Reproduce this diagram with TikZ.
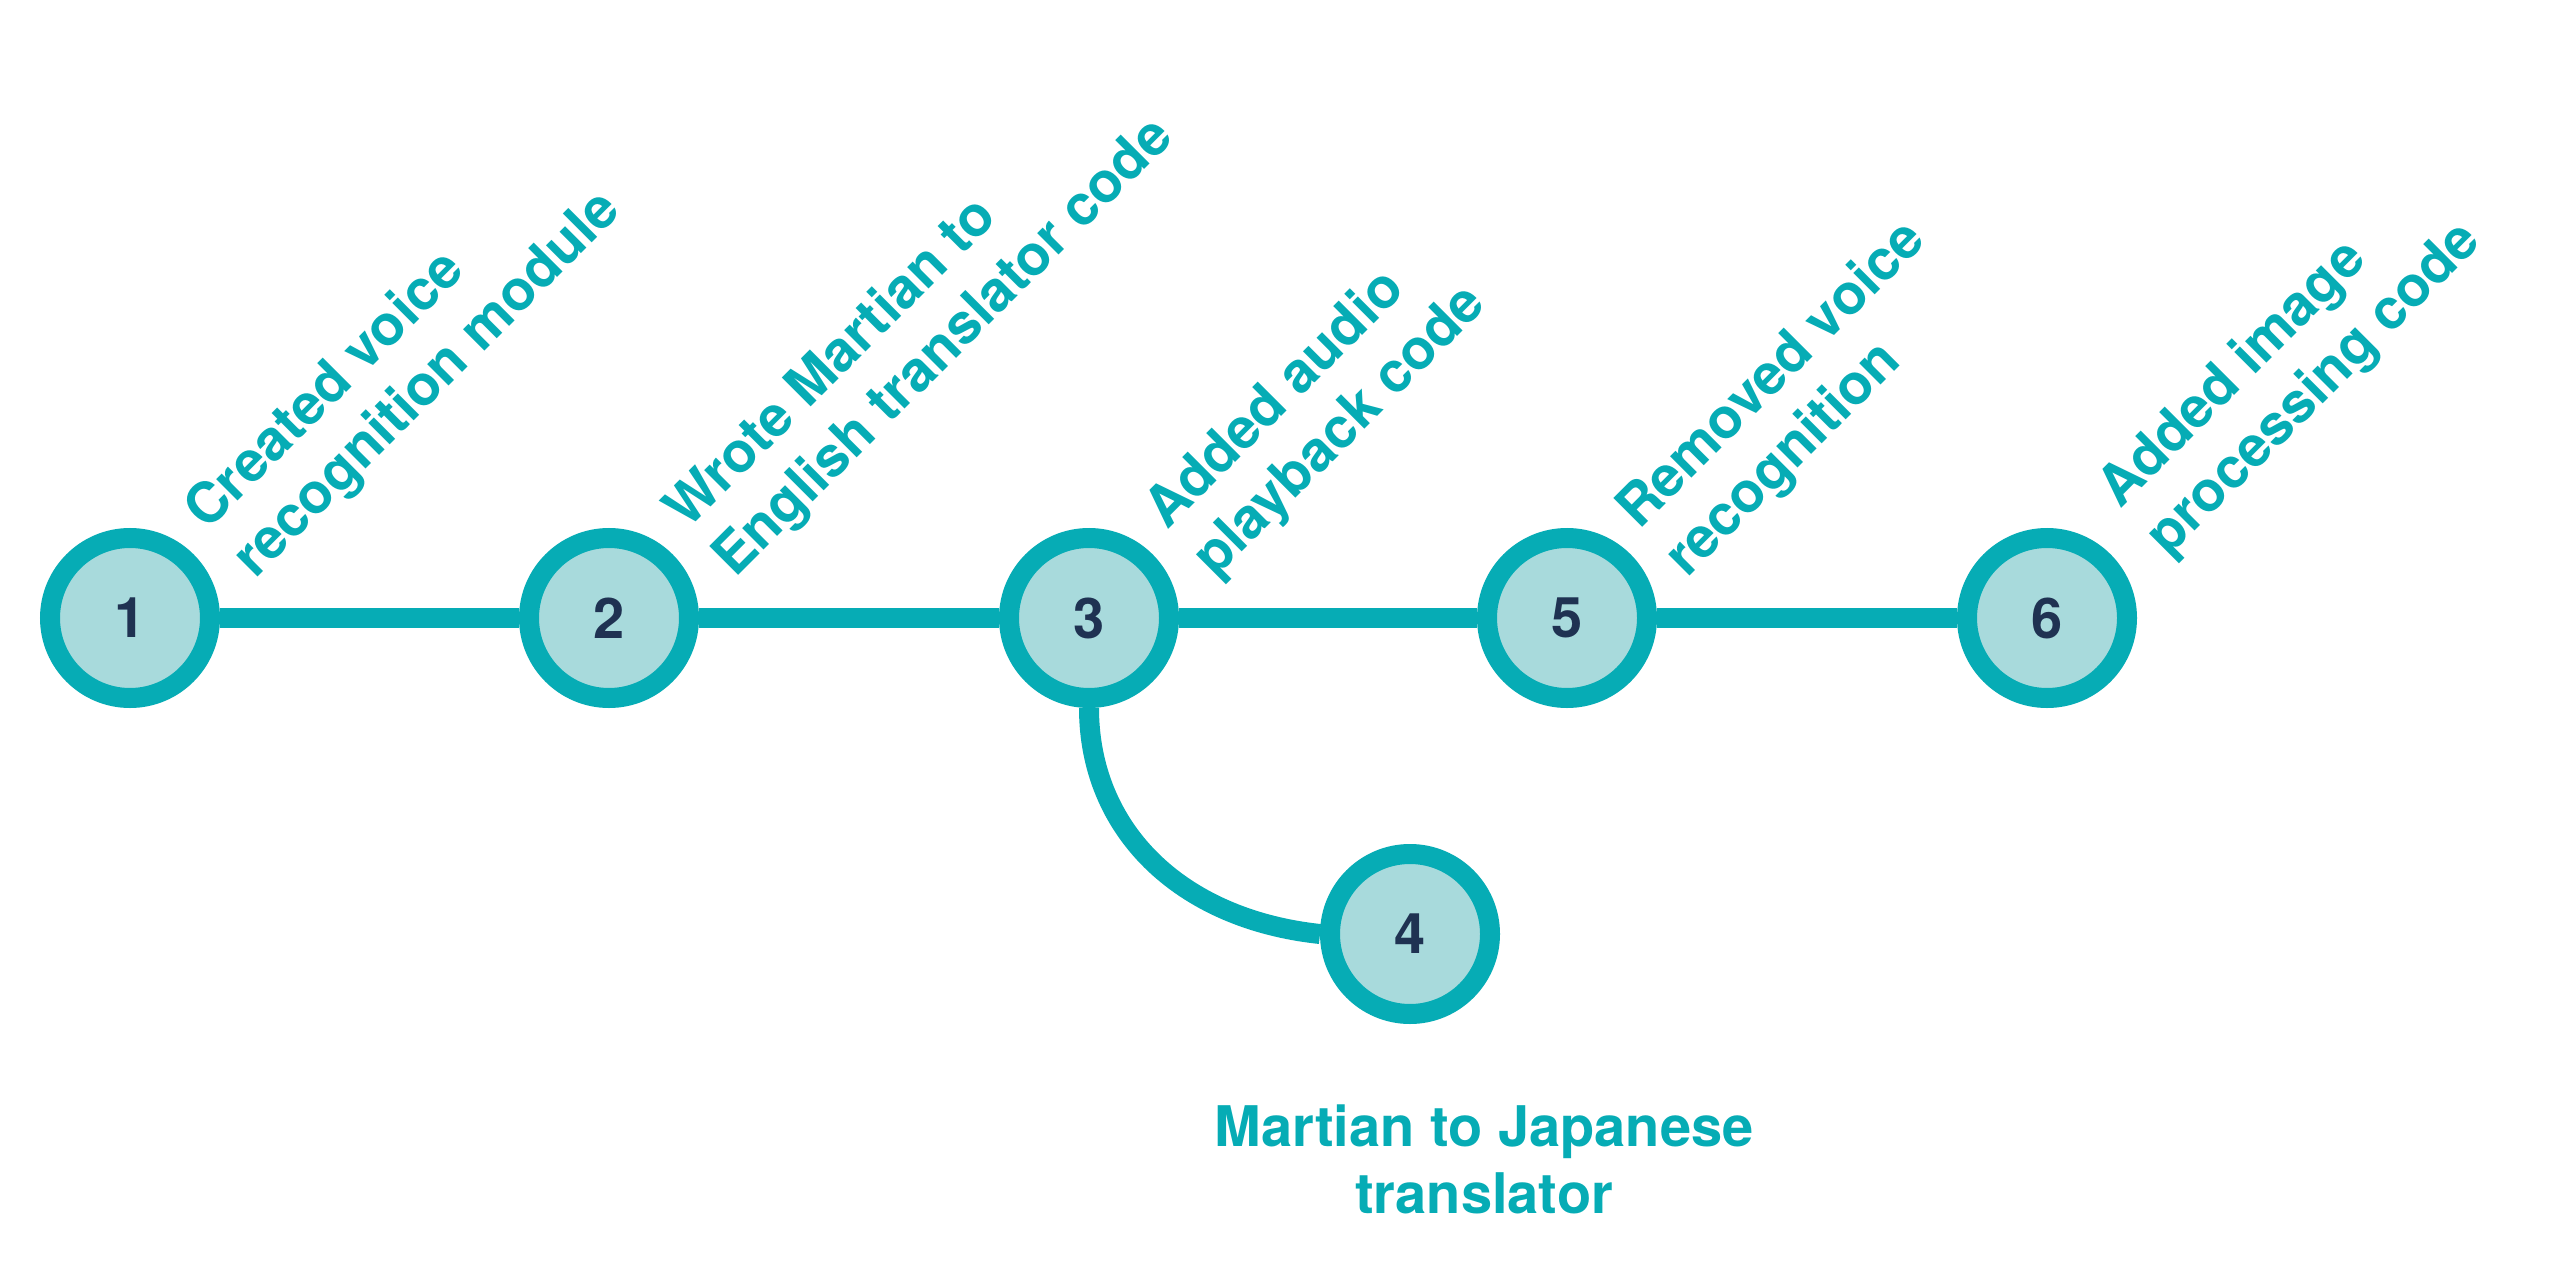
\documentclass[tikz,border=0pt]{standalone}
\usepackage{fontspec}
\setmainfont{TeX Gyre Heros}
\definecolor{ring}{HTML}{06ACB5}
\definecolor{disk}{HTML}{A8DADC}
\definecolor{digit}{HTML}{1F3252}
\begin{document}
\begin{tikzpicture}[x=1pt,y=-1pt,
  commit/.style={circle, draw=ring, fill=disk, line width=20pt, minimum size=160pt,
    inner sep=0pt, text=digit, font=\fontsize{56}{68}\selectfont\bfseries},
  branch/.style={draw=ring, line width=20pt},
  tag/.style={rotate=45, anchor=base west, inner sep=0pt, text=ring,
    font=\fontsize{56}{68}\selectfont\bfseries},
  caption/.style={align=center, anchor=north, inner sep=0pt, text=ring,
    font=\fontsize{56}{67}\selectfont\bfseries},
]
\useasboundingbox (0,0) rectangle (2568,1268);
\fill[white] (0,0) rectangle (2568,1268);

\node[commit] (n1) at (130,618) {1};
\node[commit] (n2) at (609,618) {2};
\node[commit] (n3) at (1089,618) {3};
\node[commit] (n5) at (1567,618) {5};
\node[commit] (n6) at (2047,618) {6};
\node[commit] (n4) at (1410,934) {4};

\draw[branch] (n1) -- (n2);
\draw[branch] (n2) -- (n3);
\draw[branch] (n3) -- (n5);
\draw[branch] (n5) -- (n6);
\draw[branch] (n3.south) .. controls +(0,121) and +(-141,-15) .. (n4.west);

\node[tag] (t1) at (207,532) {\vtop{\hbox{Created voice}\hbox{recognition module}}};
\node[tag] (t2) at (687,531) {\vtop{\hbox{Wrote Martian to}\hbox{English translator code}}};
\node[tag] (t3) at (1167,531) {\vtop{\hbox{Added audio}\hbox{playback code}}};
\node[tag] (t5) at (1639,531) {\vtop{\hbox{Removed voice}\hbox{recognition}}};
\node[tag] (t6) at (2120,510) {\vtop{\hbox{Added image}\hbox{processing code}}};

\node[caption] (t4) at (1484,1105) {Martian to Japanese\\translator};
\end{tikzpicture}
\end{document}
